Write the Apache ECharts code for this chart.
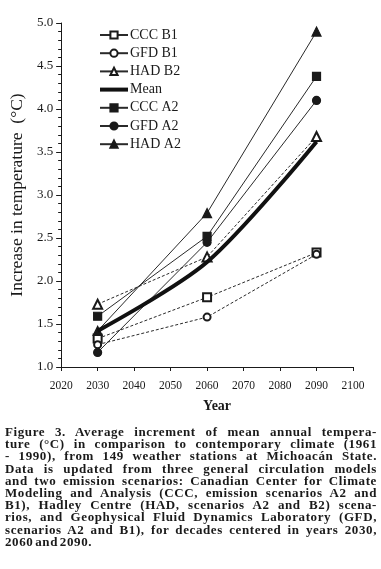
<!DOCTYPE html>
<html>
<head>
<meta charset="utf-8">
<script src="https://cdn.jsdelivr.net/npm/echarts@6/dist/echarts.min.js"></script>
<style>
  html, body { margin: 0; padding: 0; background: #fff; }
  #chart { position: absolute; left: 0; top: 0; width: 381px; height: 569px; }
  #caption {
    position: absolute; left: 5px; top: 426px; width: 372px;
    font-family: "Liberation Serif", serif; font-weight: bold;
    font-size: 13px; line-height: 12.2px; color: #1a1a1a;
    letter-spacing: 0.6px; word-spacing: -2px;
  }
  #caption div { text-align: justify; text-align-last: justify; white-space: nowrap; }
  #caption div.last { text-align-last: left; }
</style>
</head>
<body>
<div id="chart"></div>
<div id="caption">
  <div>Figure 3. Average increment of mean annual tempera-</div>
  <div>ture (°C) in comparison to contemporary climate (1961</div>
  <div>- 1990), from 149 weather stations at Michoacán State.</div>
  <div>Data is updated from three general circulation models</div>
  <div>and two emission scenarios: Canadian Center for Climate</div>
  <div>Modeling and Analysis (CCC, emission scenarios A2 and</div>
  <div>B1), Hadley Centre (HAD, scenarios A2 and B2) scena-</div>
  <div>rios, and Geophysical Fluid Dynamics Laboratory (GFD,</div>
  <div>scenarios A2 and B1), for decades centered in years 2030,</div>
  <div class="last">2060 and 2090.</div>
</div>
<script>
// years of the decade centres
var years = [2030, 2060, 2090];

// temperature increase (°C)
var cccB1 = [1.33, 1.81, 2.33];
var gfdB1 = [1.26, 1.58, 2.31];
var hadB2 = [1.73, 2.28, 3.68];
var meanAll = [1.42, 2.22, 3.62];
var cccA2 = [1.59, 2.52, 4.38];
var gfdA2 = [1.17, 2.45, 4.10];
var hadA2 = [1.42, 2.79, 4.90];

var xTicks = [2020, 2100, 10];
var yTicks = [1, 5, 0.5];

function pairs(vals) {
  return years.map(function (y, i) { return [y, vals[i]]; });
}

var serif = 'Liberation Serif';
var ink = '#1a1a1a';

function mk(name, vals, symbol, size, dashed) {
  return {
    name: name,
    type: 'line',
    data: pairs(vals),
    symbol: symbol,
    symbolSize: size,
    showAllSymbol: true,
    z: dashed ? 2 : 3,
    lineStyle: { color: '#2a2a2a', width: 1, type: dashed ? [3, 2] : 'solid' },
    itemStyle: { color: ink, borderColor: ink, borderWidth: 1.2 }
  };
}

var chart = echarts.init(document.getElementById('chart'));
chart.setOption({
  animation: false,
  backgroundColor: '#fff',
  grid: { left: 54, right: 28, top: 23, bottom: 202, containLabel: false },
  legend: {
    orient: 'vertical',
    left: 94,
    top: 23,
    itemWidth: 28,
    itemHeight: 9,
    itemGap: 4.2,
    textStyle: { fontFamily: serif, fontSize: 14, color: ink, padding: [0, 0, 0, -3] },
    lineStyle: { type: 'solid' },
    data: [
      'CCC B1', 'GFD B1', 'HAD B2',
      { name: 'Mean', icon: 'path://M0,0h28v4h-28z' },
      'CCC A2', 'GFD A2', 'HAD A2'
    ]
  },
  xAxis: {
    type: 'value',
    min: xTicks[0], max: xTicks[1], interval: xTicks[2],
    name: 'Year',
    nameLocation: 'middle',
    nameGap: 32,
    nameTextStyle: { fontFamily: serif, fontSize: 14, fontWeight: 'bold', color: ink, padding: [0, 0, 0, 20] },
    axisLine: { lineStyle: { color: ink, width: 1 } },
    axisTick: { length: 4, lineStyle: { color: ink } },
    axisLabel: { fontFamily: serif, fontSize: 11.5, color: ink, margin: 13,
      formatter: function (v) { return String(v); } },
    splitLine: { show: false }
  },
  yAxis: {
    type: 'value',
    min: yTicks[0], max: yTicks[1], interval: yTicks[2],
    name: 'Increase in temperature  (°C)',
    nameLocation: 'middle',
    nameGap: 24,
    nameTextStyle: { fontFamily: serif, fontSize: 17.5, color: ink },
    axisLine: { show: true, lineStyle: { color: ink, width: 1 } },
    axisTick: { show: true, length: 5, lineStyle: { color: ink } },
    minorTick: { show: true, splitNumber: 5, length: 3, lineStyle: { color: ink } },
    axisLabel: { fontFamily: serif, fontSize: 13, color: ink, margin: 8,
      formatter: function (v) { return v.toFixed(1); } },
    splitLine: { show: false }
  },
  series: [
    mk('CCC B1', cccB1, 'emptyRect', 8, true),
    mk('GFD B1', gfdB1, 'emptyCircle', 7, true),
    mk('HAD B2', hadB2, 'emptyTriangle', 9, true),
    {
      name: 'Mean', type: 'line', data: pairs(meanAll), symbol: 'none',
      smooth: 0.3, z: 4,
      lineStyle: { color: '#111', width: 4 },
      itemStyle: { color: '#111' }
    },
    mk('CCC A2', cccA2, 'rect', 8, false),
    mk('GFD A2', gfdA2, 'circle', 8, false),
    mk('HAD A2', hadA2, 'triangle', 9, false)
  ]
});
</script>
</body>
</html>
